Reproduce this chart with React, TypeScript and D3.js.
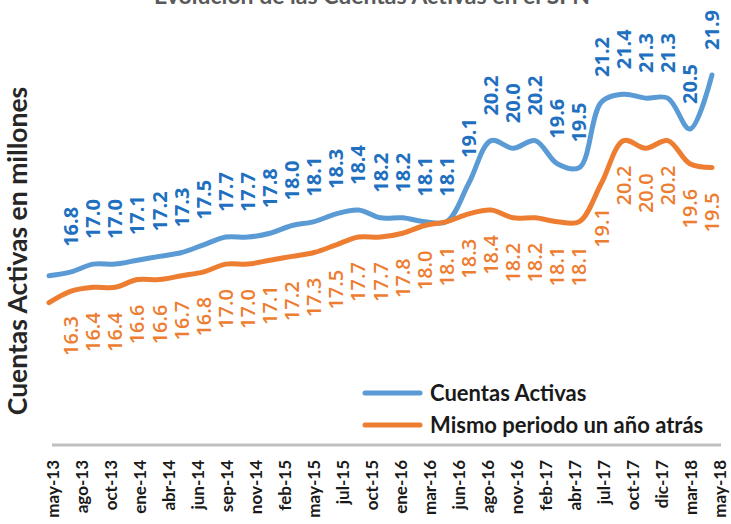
import * as d3 from 'd3'

const W = 731
const H = 524

// etiquetas del eje horizontal
const periods = [
  'may-13', 'ago-13', 'oct-13', 'ene-14', 'abr-14', 'jun-14', 'sep-14', 'nov-14',
  'feb-15', 'may-15', 'jul-15', 'oct-15', 'ene-16', 'mar-16', 'jun-16', 'ago-16',
  'nov-16', 'feb-17', 'abr-17', 'jul-17', 'oct-17', 'dic-17', 'mar-18', 'may-18',
]

// cuentas activas (millones); el primer punto no lleva etiqueta
const activas = [
  16.7, 16.8, 17.0, 17.0, 17.1, 17.2, 17.3, 17.5, 17.7, 17.7, 17.8, 18.0, 18.1, 18.3, 18.4, 18.2,
  18.2, 18.1, 18.1, 19.1, 20.2, 20.0, 20.2, 19.6, 19.5, 21.2, 21.4, 21.3, 21.3, 20.5, 21.9,
]

// mismo periodo un año atrás
const anioAtras = [
  16.0, 16.3, 16.4, 16.4, 16.6, 16.6, 16.7, 16.8, 17.0, 17.0, 17.1, 17.2, 17.3, 17.5, 17.7, 17.7,
  17.8, 18.0, 18.1, 18.3, 18.4, 18.2, 18.2, 18.1, 18.1, 19.1, 20.2, 20.0, 20.2, 19.6, 19.5,
]

const series = [
  { name: 'Cuentas Activas', values: activas, color: '#5b9bd5', label: '#2170c0', above: true },
  { name: 'Mismo periodo un año atrás', values: anioAtras, color: '#ed7d31', label: '#ed7d31', above: false },
]

const AXIS_Y = 445
const LABEL_GAP = 25

export default function App() {
  const x = d3.scaleLinear().domain([0, activas.length - 1]).range([49, 712])
  const y = d3.scaleLinear().domain([16, 22]).range([302.7, 71.1])
  const xTicks = d3.scalePoint().domain(periods).range([53, 720])

  const line = d3
    .line<number>()
    .x((_d, i) => x(i))
    .y((d) => y(d))
    .curve(d3.curveCatmullRom.alpha(0.5))

  return (
    <svg width={W} height={H} style={{ position: 'absolute', left: 0, top: 0, background: '#fff' }}>
      <text
        x={372}
        y={4}
        textAnchor="middle"
        fontFamily="Lato"
        fontWeight={700}
        fontSize={23}
        fill="#595959"
      >
        Evolución de las Cuentas Activas en el SFN
      </text>

      <text
        transform="translate(27,251) rotate(-90)"
        textAnchor="middle"
        fontFamily="Lato"
        fontWeight={700}
        fontSize={26.5}
        fill="#262626"
      >
        Cuentas Activas en millones
      </text>

      <line x1={52} x2={721} y1={AXIS_Y} y2={AXIS_Y} stroke="#bfbfbf" strokeWidth={3} />
      {periods.map((p) => (
        <text
          key={p}
          transform={`translate(${xTicks(p)},460) rotate(-90)`}
          textAnchor="end"
          dy="0.35em"
          fontFamily="Lato"
          fontWeight={700}
          fontSize={17}
          fill="#1a1a1a"
        >
          {p}
        </text>
      ))}

      {series.map((s) => (
        <path
          key={s.name}
          d={line(s.values) ?? ''}
          fill="none"
          stroke={s.color}
          strokeWidth={5}
          strokeLinecap="round"
          strokeLinejoin="round"
        />
      ))}

      {series.map((s) =>
        s.values.map((v, i) =>
          i === 0 ? null : (
            <text
              key={`${s.name}-${i}`}
              transform={`translate(${x(i)},${s.above ? y(v) - LABEL_GAP : y(v) + LABEL_GAP}) rotate(-90)`}
              textAnchor={s.above ? 'start' : 'end'}
              dy="0.35em"
              fontFamily="Open Sans"
              fontWeight={s.above ? 700 : 600}
              fontSize={20}
              fill={s.label}
            >
              {v.toFixed(1)}
            </text>
          ),
        ),
      )}

      {series.map((s, i) => (
        <g key={s.name} transform={`translate(365,${393 + i * 32})`}>
          <line x1={0} x2={55} stroke={s.color} strokeWidth={5} strokeLinecap="round" />
          <text x={65} dy="0.35em" fontFamily="Lato" fontWeight={700} fontSize={22} fill="#1a1a1a">
            {s.name}
          </text>
        </g>
      ))}
    </svg>
  )
}
